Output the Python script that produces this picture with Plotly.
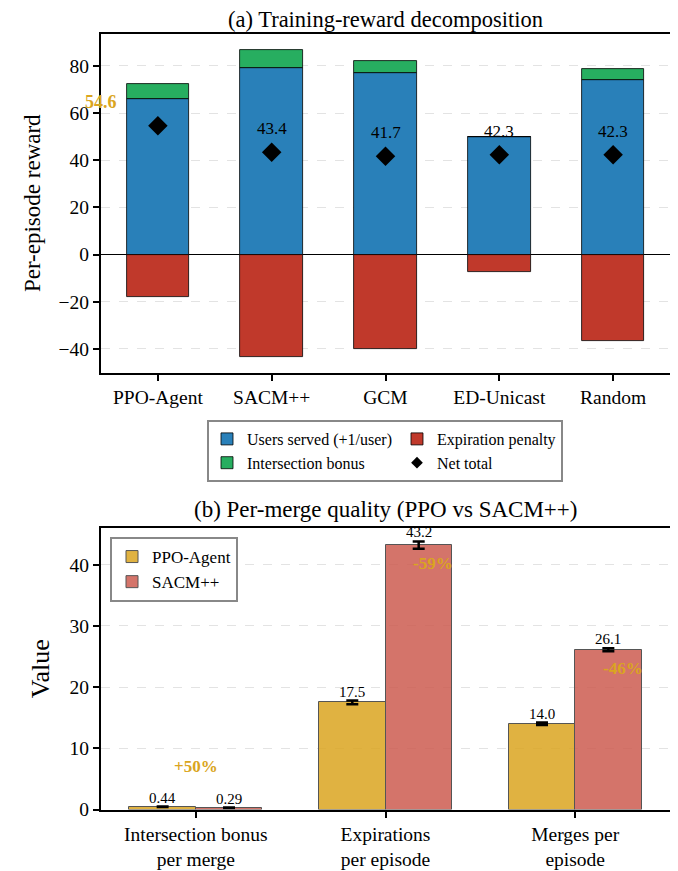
import plotly.graph_objects as go

# ---------------- data ----------------
methods = ["PPO-Agent", "SACM++", "GCM", "ED-Unicast", "Random"]
users_served = [66.0, 79.0, 77.0, 49.8, 73.9]
intersection_bonus = [6.4, 7.8, 4.9, 0.0, 4.9]
expiration_penalty = [-17.8, -43.4, -40.2, -7.5, -36.5]
net_total = [54.6, 43.4, 41.7, 42.3, 42.3]

metrics = ["Intersection bonus<br>per merge", "Expirations<br>per episode", "Merges per<br>episode"]
ppo_vals = [0.44, 17.5, 14.0]
ppo_err = [0.05, 0.3, 0.2]
sacm_vals = [0.29, 43.2, 26.1]
sacm_err = [0.03, 0.6, 0.25]
pct_labels = ["+50%", "-59%", "-46%"]

# ---------------- styles ----------------
FONT = "Liberation Serif"
BLUE, RED, GREEN = "#2980B9", "#C0392B", "#27AE60"
GOLD = "#DAA520"
PPO_FILL = "rgba(218,165,32,0.85)"
SACM_FILL = "rgba(205,92,80,0.85)"
OFF = 8                      # page body margin
W, H = 678 - OFF, 871 - OFF

def pxf(x):
    return (x - OFF) / W

def pyf(y):
    return 1 - (y - OFF) / H

fig = go.Figure()

# ---------------- (a) stacked decomposition ----------------
xi = list(range(len(methods)))
fig.add_trace(go.Bar(x=xi, y=users_served, name="Users served (+1/user)",
                     marker=dict(color=BLUE, line=dict(color="black", width=0.8)),
                     width=0.55, legendgroup="a", legend="legend",
                     xaxis="x", yaxis="y"))
fig.add_trace(go.Bar(x=xi, y=expiration_penalty, name="Expiration penalty",
                     marker=dict(color=RED, line=dict(color="black", width=0.8)),
                     width=0.55, legendgroup="b", legend="legend",
                     xaxis="x", yaxis="y"))
fig.add_trace(go.Bar(x=xi, y=intersection_bonus, name="Intersection bonus",
                     marker=dict(color=GREEN, line=dict(color="black", width=0.8)),
                     width=0.55, legendgroup="a", legend="legend",
                     xaxis="x", yaxis="y"))
fig.add_trace(go.Scatter(x=xi, y=net_total, mode="markers", name="Net total",
                         marker=dict(symbol="diamond", size=15, color="black"),
                         showlegend=False, xaxis="x", yaxis="y"))
fig.add_trace(go.Scatter(x=[None], y=[None], mode="markers", name="Net total",
                         marker=dict(symbol="diamond", size=9, color="black"),
                         legendgroup="b", legend="legend", xaxis="x", yaxis="y"))

annotations = []
for i, v in enumerate(net_total):
    if i == 0:
        annotations.append(dict(x=i - 0.5, y=v + 10, xref="x", yref="y", text=f"<b>{v:.1f}</b>",
                                showarrow=False, font=dict(family=FONT, size=18, color=GOLD)))
    else:
        annotations.append(dict(x=i, y=v + 10, xref="x", yref="y", text=f"{v:.1f}",
                                showarrow=False, font=dict(family=FONT, size=17, color="black")))

# ---------------- (b) per-merge quality ----------------
mi = list(range(len(metrics)))
bw = 0.35
fig.add_trace(go.Bar(x=[i - bw / 2 for i in mi], y=ppo_vals, name="PPO-Agent", width=bw,
                     marker=dict(color=PPO_FILL, line=dict(color="#555555", width=1)),
                     error_y=dict(type="data", array=ppo_err, color="black", thickness=2.5, width=6),
                     legend="legend2", xaxis="x2", yaxis="y2"))
fig.add_trace(go.Bar(x=[i + bw / 2 for i in mi], y=sacm_vals, name="SACM++", width=bw,
                     marker=dict(color=SACM_FILL, line=dict(color="#555555", width=1)),
                     error_y=dict(type="data", array=sacm_err, color="black", thickness=2.5, width=6),
                     legend="legend2", xaxis="x2", yaxis="y2"))

for i in mi:
    for off, v, e in ((-bw / 2, ppo_vals[i], ppo_err[i]), (bw / 2, sacm_vals[i], sacm_err[i])):
        txt = f"{v:.2f}" if v < 1 else f"{v:.1f}"
        annotations.append(dict(x=i + off, y=v + e, xref="x2", yref="y2", text=txt,
                                showarrow=False, yanchor="bottom", yshift=-1,
                                font=dict(family=FONT, size=15, color="black")))
    if sacm_vals[i] > 5:
        px, pyv = i + 0.25, sacm_vals[i] - 3
    else:
        px, pyv = i, 7
    annotations.append(dict(x=px, y=pyv, xref="x2", yref="y2", text=f"<b>{pct_labels[i]}</b>",
                            showarrow=False, font=dict(family=FONT, size=17, color=GOLD)))

# titles
annotations.append(dict(x=pxf(385), y=pyf(19.5), xref="paper", yref="paper",
                        xanchor="center", yanchor="middle",
                        text="(a) Training-reward decomposition", showarrow=False,
                        font=dict(family=FONT, size=22.5, color="black")))
annotations.append(dict(x=pxf(385), y=pyf(510), xref="paper", yref="paper",
                        xanchor="center", yanchor="middle",
                        text="(b) Per-merge quality (PPO vs SACM++)", showarrow=False,
                        font=dict(family=FONT, size=23, color="black")))

axis_common = dict(showline=True, mirror=True, linecolor="black", linewidth=2,
                   ticks="outside", ticklen=6, tickwidth=2, tickcolor="black", automargin=False,
                   tickfont=dict(family=FONT, size=19.5, color="black"))

fig.update_layout(
    template="none",
    width=W, height=H, margin=dict(l=0, r=0, t=0, b=0, autoexpand=False),
    paper_bgcolor="white", plot_bgcolor="white",
    barmode="relative", bargap=0,
    font=dict(family=FONT, color="black"),
    xaxis=dict(domain=[pxf(101), pxf(670)], range=[-0.5, 4.5], tickvals=xi, ticktext=methods,
               showgrid=False, zeroline=False, anchor="y", **axis_common),
    yaxis=dict(domain=[pyf(372.5), pyf(34)], range=[-50, 93.5], tickvals=[-40, -20, 0, 20, 40, 60, 80],
               showgrid=True, gridcolor="#e3e3e3", griddash="dash", gridwidth=1,
               zeroline=True, zerolinecolor="black", zerolinewidth=1,
               title=dict(text="Per-episode reward", font=dict(family=FONT, size=23), standoff=12),
               anchor="x", **axis_common),
    xaxis2=dict(domain=[pxf(101), pxf(670)], range=[-0.5, 2.5], tickvals=mi, ticktext=metrics,
                showgrid=False, zeroline=False, anchor="y2", **axis_common),
    yaxis2=dict(domain=[pyf(809.5), pyf(528)], range=[0, 46], tickvals=[0, 10, 20, 30, 40],
                showgrid=True, gridcolor="#e3e3e3", griddash="dash", gridwidth=1, zeroline=False,
                title=dict(text="Value", font=dict(family=FONT, size=26), standoff=12),
                anchor="x2", **axis_common),
    legend=dict(x=pxf(385), y=pyf(420), xanchor="center", yanchor="top", orientation="h",
                traceorder="grouped", tracegroupgap=14, bgcolor="white",
                bordercolor="#888888", borderwidth=2,
                font=dict(family=FONT, size=16, color="black")),
    legend2=dict(x=pxf(110), y=pyf(537), xanchor="left", yanchor="top", orientation="v",
                 bgcolor="white", bordercolor="#888888", borderwidth=2,
                 font=dict(family=FONT, size=17, color="black")),
    annotations=annotations,
    showlegend=True,
)

fig.write_html("out.html")
